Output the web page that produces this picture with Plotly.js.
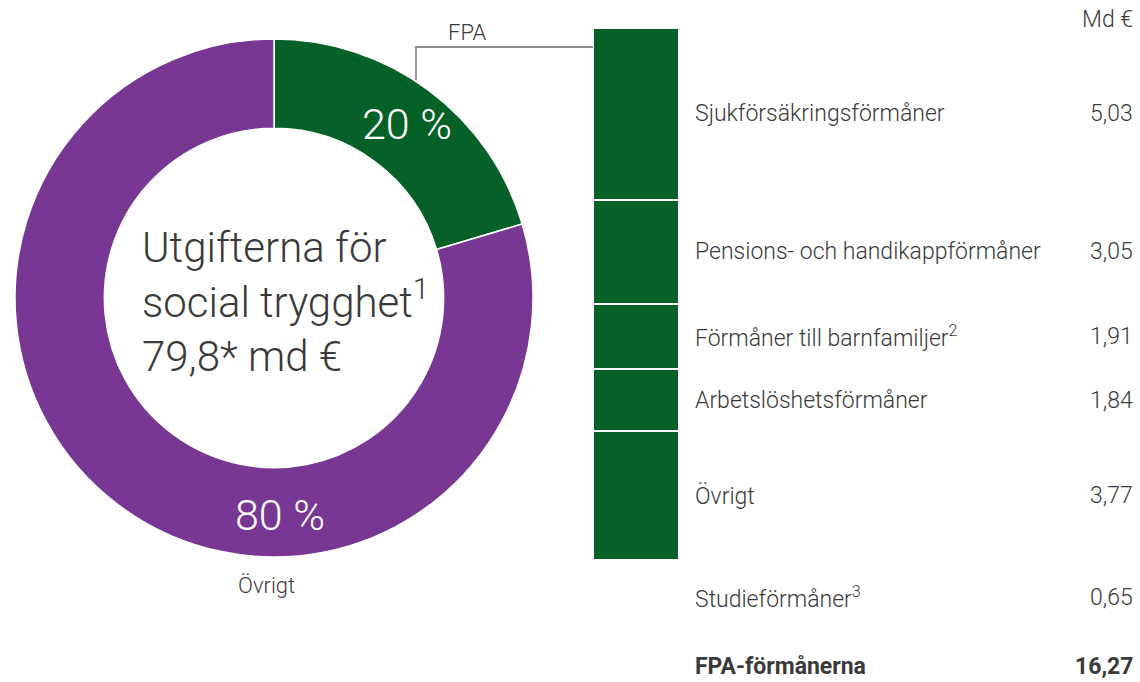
<!DOCTYPE html>
<html><head><meta charset="utf-8">
<script src="https://cdn.plot.ly/plotly-3.0.1.min.js"></script>
<style>html,body{margin:0;padding:0;background:#fff}#c{width:1140px;height:682px}</style>
</head><body><div id="c"></div>
<script>
// Data
const donutLabels = ["FPA", "Övrigt"];
const totalSocial = 79.8;
const fpaTotal = 16.27;
const barCategories = ["Övrigt", "Arbetslöshetsförmåner", "Förmåner till barnfamiljer<sup>2</sup>", "Pensions- och handikappförmåner", "Sjukförsäkringsförmåner"];
const barValues = [3.77, 1.84, 1.91, 3.05, 5.03];
const studyLabel = "Studieförmåner<sup>3</sup>";
const studyValue = 0.65;
const totalLabel = "FPA-förmånerna";
const donutValues = [fpaTotal, +(totalSocial - fpaTotal).toFixed(2)];

const FONT = "'Roboto', sans-serif";
const TXT = "#3a3a3a";
const GREEN = "#056127", PURPLE = "#783793";
const fmt = v => v.toFixed(2).replace(".", ",");

const W = 1140, H = 682;
const px = x => x / W, py = y => 1 - y / H;

const traces = [{
  type: "pie", labels: donutLabels, values: donutValues, sort: false, direction: "clockwise",
  rotation: 0, hole: 0.655, textinfo: "none", hoverinfo: "none",
  marker: {colors: [GREEN, PURPLE], line: {color: "#fff", width: 1.5}},
  domain: {x: [px(15), px(533)], y: [py(557), py(39)]}, showlegend: false
}];
barCategories.forEach((c, i) => traces.push({
  type: "bar", x: ["FPA"], y: [barValues[i]], name: c, xaxis: "x", yaxis: "y",
  marker: {color: GREEN, line: {color: "#fff", width: 2}}, width: 1, hoverinfo: "none", showlegend: false
}));

const f = (size, color, weight) => ({family: FONT, size: size, color: color || TXT, weight: weight || 300});
const annotations = [];
let cum = 0;
barValues.forEach((v, i) => {
  const mid = cum + v / 2; cum += v;
  annotations.push({xref: "paper", yref: "y", x: px(693), y: mid, xanchor: "left", yanchor: "middle",
    text: barCategories[i], showarrow: false, font: f(23)});
  annotations.push({xref: "paper", yref: "y", x: px(1135), y: mid, xanchor: "right", yanchor: "middle",
    text: fmt(v), showarrow: false, font: f(23)});
});
annotations.push(
  {xref: "paper", yref: "paper", x: px(693), y: py(597), xanchor: "left", yanchor: "middle", text: studyLabel, showarrow: false, font: f(23)},
  {xref: "paper", yref: "paper", x: px(1135), y: py(597), xanchor: "right", yanchor: "middle", text: fmt(studyValue), showarrow: false, font: f(23)},
  {xref: "paper", yref: "paper", x: px(693), y: py(666), xanchor: "left", yanchor: "middle", text: totalLabel, showarrow: false, font: f(23, TXT, 700)},
  {xref: "paper", yref: "paper", x: px(1135), y: py(666), xanchor: "right", yanchor: "middle", text: fmt(fpaTotal), showarrow: false, font: f(23, TXT, 700)},
  {xref: "paper", yref: "paper", x: px(1135), y: py(20), xanchor: "right", yanchor: "middle", text: "Md €", showarrow: false, font: f(23)},
  {xref: "paper", yref: "paper", x: px(467), y: py(33), xanchor: "center", yanchor: "middle", text: donutLabels[0], showarrow: false, font: f(22)},
  {xref: "paper", yref: "paper", x: px(266), y: py(585), xanchor: "center", yanchor: "middle", text: donutLabels[1], showarrow: false, font: f(22)},
  {xref: "paper", yref: "paper", x: px(407), y: py(124), xanchor: "center", yanchor: "middle", text: Math.round(donutValues[0] / totalSocial * 100) + " %", showarrow: false, font: f(43, "#fff")},
  {xref: "paper", yref: "paper", x: px(280), y: py(515), xanchor: "center", yanchor: "middle", text: Math.round(donutValues[1] / totalSocial * 100) + " %", showarrow: false, font: f(43, "#fff")},
  {xref: "paper", yref: "paper", x: px(140), y: py(302), xanchor: "left", yanchor: "middle", align: "left",
   text: "Utgifterna för<br>social trygghet<sup>1</sup><br>" + String(totalSocial).replace(".", ",") + "* md €", showarrow: false, font: f(42)}
);

const layout = {
  width: W, height: H, margin: {l: 0, r: 0, t: 0, b: 0}, paper_bgcolor: "#fff", plot_bgcolor: "rgba(0,0,0,0)",
  barmode: "stack", showlegend: false,
  xaxis: {domain: [px(593), px(679)], range: [-0.5, 0.5], visible: false, fixedrange: true},
  yaxis: {domain: [py(560), py(28)], range: [0, barValues.reduce((a, b) => a + b, 0)], visible: false, fixedrange: true},
  annotations: annotations,
  shapes: [{type: "path", layer: "below", xref: "paper", yref: "paper", path: `M ${px(416)} ${py(80)} L ${px(416)} ${py(47)} L ${px(593)} ${py(47)}`, line: {color: "#8a8a8a", width: 1.8}}]
};
Plotly.newPlot("c", traces, layout, {staticPlot: true});
</script></body></html>
